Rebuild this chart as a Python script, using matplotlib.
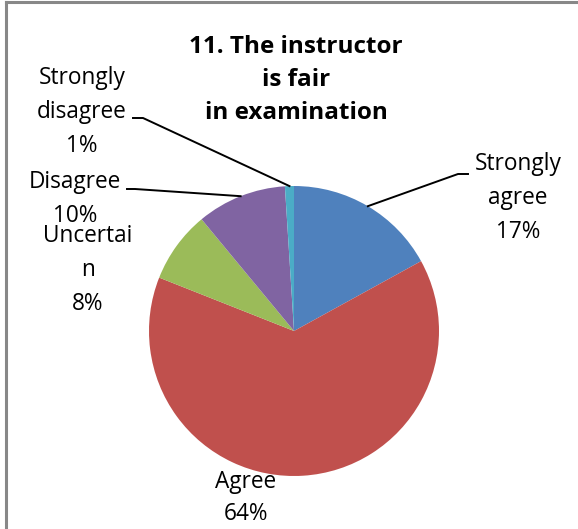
import matplotlib.pyplot as plt
from matplotlib.lines import Line2D
import numpy as np

plt.rcParams['font.family'] = ['Open Sans', 'DejaVu Sans']

labels = ['Strongly\nagree', 'Agree', 'Uncertai\nn', 'Disagree', 'Strongly\ndisagree']
values = [17, 64, 8, 10, 1]
colors = ['#4F81BD', '#C0504D', '#9BBB59', '#8064A2', '#4BACC6']
title = '11. The instructor\nis fair\nin examination'

W, H = 578, 529

def px(x, y):
    return (x / W, 1 - y / H)

fig = plt.figure(figsize=(W / 100, H / 100), dpi=100)
ax = fig.add_axes([(294 - 145) / W, (H - 476) / H, 290 / W, 290 / H])
wedges, _ = ax.pie(values, colors=colors, startangle=90, counterclock=False,
                   radius=1, wedgeprops=dict(linewidth=0))
ax.set_xlim(-1, 1)
ax.set_ylim(-1, 1)
ax.set_aspect('equal')
ax.axis('off')

# label centres (pixels), and leader line knee/end (None = no leader)
label_pos = [(518, 198), (246, 498), (88, 270), (75, 199), (82, 112)]
spacing = [1.58, 1.5, 1.58, 1.5, 1.58]
leaders = [[(468, 174), (458, 174)], None, None,
           [(127, 189), (135, 189)], [(133, 118), (143, 118)]]

inv = fig.transFigure.inverted()
for w, lab, v, pos, ls, ld in zip(wedges, labels, values, label_pos, spacing, leaders):
    fig.text(*px(*pos), f'{lab}\n{v}%', ha='center', va='center',
             fontsize=16.3, linespacing=ls)
    if ld is not None:
        ang = np.deg2rad((w.theta1 + w.theta2) / 2)
        edge = inv.transform(ax.transData.transform((np.cos(ang), np.sin(ang))))
        pts = [px(*p) for p in ld] + [tuple(edge)]
        fig.add_artist(Line2D([p[0] for p in pts], [p[1] for p in pts],
                              color='black', lw=1.4, transform=fig.transFigure))

fig.text(*px(296, 80), title, ha='center', va='center', fontsize=17.5,
         fontweight='bold', linespacing=1.52)

# chart frame (top and left visible)
fig.add_artist(Line2D([px(6, 0)[0], 1], [px(0, 1.5)[1]] * 2, color='#888888', lw=2.2,
                      transform=fig.transFigure))
fig.add_artist(Line2D([px(6, 0)[0]] * 2, [0, px(0, 1.5)[1]], color='#888888', lw=2.2,
                      transform=fig.transFigure))

fig.savefig('out.png', dpi=100)
